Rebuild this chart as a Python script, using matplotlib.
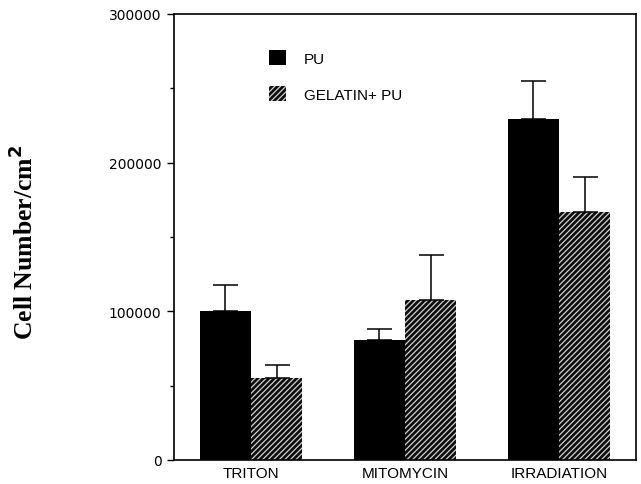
import numpy as np
import matplotlib
matplotlib.use('Agg')
import matplotlib.pyplot as plt
from matplotlib.patches import Patch

# data
categories = ['TRITON', 'MITOMYCIN', 'IRRADIATION']
pu_mean = [100000, 80500, 229300]
pu_err = [18000, 7400, 25300]
gel_mean = [55000, 107600, 167100]
gel_err = [8800, 30000, 23300]
series_labels = ['PU', 'GELATIN+ PU']
y_ticks = [0, 100000, 200000, 300000]

plt.rcParams['font.family'] = ['Liberation Sans', 'DejaVu Sans']
plt.rcParams['hatch.linewidth'] = 0.9

fig = plt.figure(figsize=(6.41, 4.85), dpi=100)
ax = fig.add_axes([0.2714, 0.0495, 0.7207, 0.9196])

x = np.arange(len(categories))
w = 0.332
ax.bar(x - w / 2, pu_mean, w, color='black', linewidth=0)
ax.bar(x + w / 2, gel_mean, w, facecolor='#0d0d0d', edgecolor='#d0d0d0',
       hatch='//////', linewidth=0)
zeros = np.zeros(len(categories))
ax.errorbar(x - w / 2, pu_mean, yerr=[zeros, pu_err], fmt='none', ecolor='black',
            elinewidth=1.1, capsize=9, capthick=1.1)
ax.errorbar(x + w / 2, gel_mean, yerr=[zeros, gel_err], fmt='none', ecolor='black',
            elinewidth=1.1, capsize=9, capthick=1.1)

ax.set_xlim(-0.5, 2.5)
ax.set_ylim(0, 300000)
ax.set_xticks(x)
ax.set_xticklabels(categories, fontsize=11)
ax.set_yticks(y_ticks)
ax.set_yticklabels([str(v) for v in y_ticks], fontsize=10, family='DejaVu Sans')
ax.set_yticks([50000, 150000, 250000], minor=True)
ax.tick_params(axis='x', length=0, pad=4)
ax.tick_params(axis='y', which='major', length=5, width=1, pad=4)
ax.tick_params(axis='y', which='minor', length=3, width=1)
for s in ax.spines.values():
    s.set_linewidth(1.2)

ax.set_ylabel('Cell Number/cm$^\\mathbf{2}$', family='Liberation Serif',
              fontweight='bold', fontsize=18.5)
ax.yaxis.set_label_coords(-0.294, 0.49)

handles = [Patch(facecolor='black', linewidth=0),
           Patch(facecolor='#0d0d0d', edgecolor='#d0d0d0', hatch='//////', linewidth=0)]
ax.legend(handles, series_labels, loc='upper left', bbox_to_anchor=(0.2056, 0.919),
          frameon=False, fontsize=11, handlelength=1.1, handleheight=1.1,
          handletextpad=1.2, labelspacing=1.35, borderpad=0, borderaxespad=0)

fig.savefig('out.png', dpi=100)
